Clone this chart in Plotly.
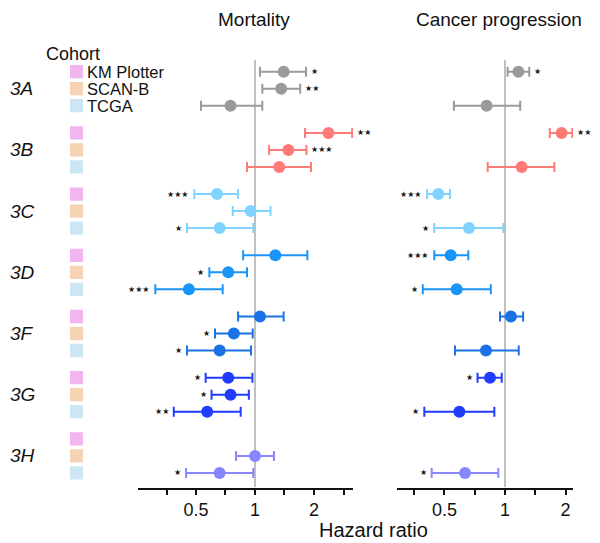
import math
import plotly.graph_objects as go

groups = ["3A", "3B", "3C", "3D", "3F", "3G", "3H"]
cohorts = ["KM Plotter", "SCAN-B", "TCGA"]
group_colors = ["#9a9a9a", "#ff7b78", "#80d3ff", "#1a95f7", "#1a72e6", "#1f3cff", "#8686ff"]
cohort_colors = ["#f2b5ef", "#f6d3b5", "#cde6f4"]

# Mortality: [group][cohort]
mort_hr = [[1.40, 1.36, 0.75], [2.37, 1.48, 1.33], [0.64, 0.95, 0.66], [1.27, 0.73, 0.46],
           [1.06, 0.78, 0.66], [0.73, 0.75, 0.57], [None, 1.00, 0.66]]
mort_lo = [[1.06, 1.09, 0.53], [1.80, 1.18, 0.91], [0.49, 0.77, 0.45], [0.87, 0.585, 0.31],
           [0.82, 0.625, 0.45], [0.56, 0.60, 0.385], [None, 0.80, 0.445]]
mort_hi = [[1.82, 1.70, 1.09], [3.13, 1.83, 1.93], [0.82, 1.20, 0.98], [1.85, 0.91, 0.684],
           [1.40, 0.973, 0.954], [0.97, 0.93, 0.845], [None, 1.25, 0.98]]
mort_sig = [["*", "**", ""], ["**", "***", ""], ["***", "", "*"], ["", "*", "***"],
            ["", "*", "*"], ["*", "*", "**"], ["", "", "*"]]

# Cancer progression
prog_hr = [[1.165, None, 0.81], [1.91, None, 1.21], [0.466, None, 0.662], [0.537, None, 0.575],
           [1.07, None, 0.804], [0.842, None, 0.593], [None, None, 0.633]]
prog_lo = [[1.03, None, 0.557], [1.67, None, 0.82], [0.41, None, 0.445], [0.445, None, 0.39],
           [0.944, None, 0.564], [0.73, None, 0.397], [None, None, 0.432]]
prog_hi = [[1.32, None, 1.19], [2.16, None, 1.76], [0.533, None, 0.98], [0.657, None, 0.85],
           [1.23, None, 1.17], [0.963, None, 0.885], [None, None, 0.926]]
prog_sig = [["*", "", ""], ["***", "", ""], ["***", "", "*"], ["***", "", "*"],
            ["", "", ""], ["*", "", "*"], ["", "", "*"]]

tick_vals = [0.354, 0.5, 0.707, 1, 1.414, 2, 2.83]
tick_text = ["", "0.5", "", "1", "", "2", ""]

OFF = 8  # page body margin
W, H = 600 - OFF, 543 - OFF


def px(x):
    return (x - OFF) / W


def py(y):
    return 1 - (y - OFF) / H


GSTEP = 3.6  # rows between group starts


def ypos(g, r):
    return g * GSTEP + r


fig = go.Figure()
annotations = []
shapes = []
FONT = "Liberation Sans"

panels = [
    ("x", "y", mort_hr, mort_lo, mort_hi, mort_sig),
    ("x2", "y2", prog_hr, prog_lo, prog_hi, prog_sig),
]
for xa, ya, HR, LO, HI, SIG in panels:
    for g in range(len(groups)):
        for r in range(3):
            hr = HR[g][r]
            if hr is None:
                continue
            lo, hi = LO[g][r], HI[g][r]
            fig.add_trace(go.Scatter(
                x=[hr], y=[ypos(g, r)], xaxis=xa, yaxis=ya, mode="markers",
                marker=dict(color=group_colors[g], size=12, line=dict(width=0)),
                error_x=dict(type="data", symmetric=False, array=[hi - hr], arrayminus=[hr - lo],
                             color=group_colors[g], thickness=2, width=5),
                showlegend=False, hoverinfo="skip"))
            s = SIG[g][r]
            if s:
                right = hr > 1
                annotations.append(dict(
                    x=math.log10(hi if right else lo), y=ypos(g, r), xref=xa, yref=ya,
                    text="★" * len(s), showarrow=False, yanchor="middle",
                    xanchor="left" if right else "right", xshift=4 if right else -4,
                    borderpad=0, font=dict(size=8, color="#1a1a1a", family="DejaVu Sans")))

# group labels and cohort squares
for g, name in enumerate(groups):
    annotations.append(dict(x=px(8), y=ypos(g, 1), xref="paper", yref="y", text="<i>" + name + "</i>",
                            showarrow=False, xanchor="left", yanchor="middle",
                            font=dict(size=19, color="#111", family=FONT)))
    for r in range(3):
        yc = ypos(g, r)
        shapes.append(dict(type="rect", xref="paper", yref="y", x0=px(70), x1=px(83),
                           y0=yc - 0.39, y1=yc + 0.39, fillcolor=cohort_colors[r],
                           line=dict(width=0), layer="above"))

annotations.append(dict(x=px(44), y=py(54), xref="paper", yref="paper", text="Cohort", showarrow=False,
                        xanchor="left", yanchor="middle", font=dict(size=18, color="#111", family=FONT)))
for r, c in enumerate(cohorts):
    annotations.append(dict(x=px(86), y=ypos(0, r), xref="paper", yref="y", text=c, showarrow=False,
                            xanchor="left", yanchor="middle", borderpad=0,
                            font=dict(size=16.5, color="#111", family=FONT)))

# titles
annotations.append(dict(x=px(254), y=py(19), xref="paper", yref="paper", text="Mortality",
                        showarrow=False, yanchor="middle", xanchor="center",
                        font=dict(size=19, color="#111", family=FONT)))
annotations.append(dict(x=px(499), y=py(19), xref="paper", yref="paper", text="Cancer progression",
                        showarrow=False, yanchor="middle", xanchor="center",
                        font=dict(size=19, color="#111", family=FONT)))
annotations.append(dict(x=px(373), y=py(530), xref="paper", yref="paper", text="Hazard ratio",
                        showarrow=False, yanchor="middle", xanchor="center",
                        font=dict(size=20, color="#111", family=FONT)))

# reference lines at HR = 1
for xa in ["x", "x2"]:
    shapes.append(dict(type="line", xref=xa, yref="paper", x0=1, x1=1, y0=py(487), y1=py(60),
                       line=dict(color="#c0c0c0", width=2), layer="below"))

y_top_px, y_bot_px = 60, 487.7
unit = 17.0
y_range = [(y_bot_px - 71.7) / unit, (y_top_px - 71.7) / unit]
ydom = [py(y_bot_px), py(y_top_px)]

xcommon = dict(type="log", showline=True, linecolor="#111", linewidth=2, ticks="outside",
               ticklen=5, tickwidth=1.5, tickcolor="#111", tickvals=tick_vals, ticktext=tick_text,
               showgrid=False, zeroline=False, tickfont=dict(size=18, color="#111", family=FONT))
ycommon = dict(range=y_range, domain=ydom, visible=False, showgrid=False, zeroline=False)

fig.update_layout(
    width=W, height=H, margin=dict(l=0, r=0, t=0, b=0),
    plot_bgcolor="white", paper_bgcolor="white",
    xaxis=dict(xcommon, domain=[px(138), px(353)], range=[-0.597, 0.500], anchor="y"),
    yaxis=dict(ycommon, anchor="x"),
    xaxis2=dict(xcommon, domain=[px(397), px(573)], range=[-0.537, 0.338], anchor="y2"),
    yaxis2=dict(ycommon, anchor="x2"),
    annotations=annotations, shapes=shapes, showlegend=False,
)

fig.write_html("out.html")
